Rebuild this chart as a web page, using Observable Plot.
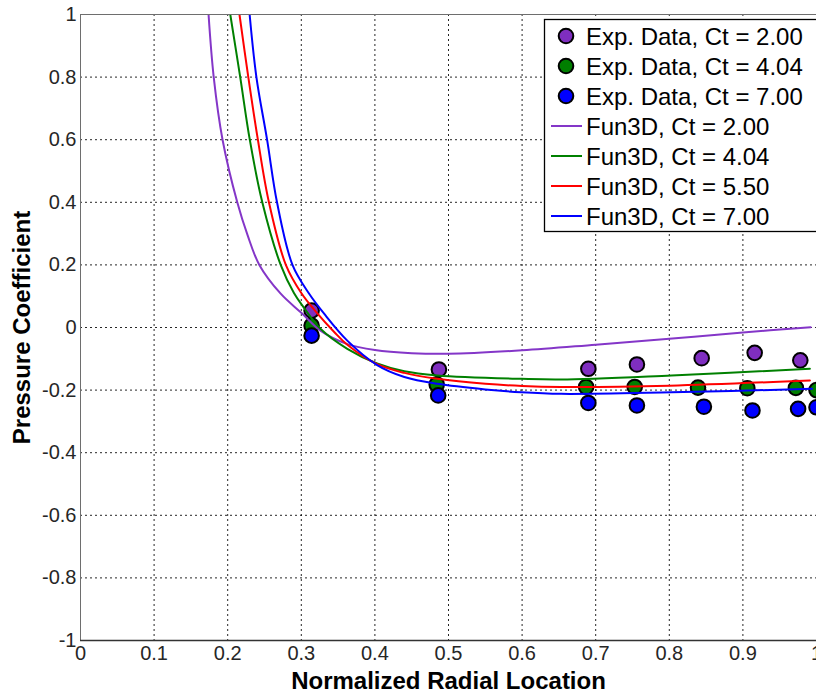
<!DOCTYPE html>
<html>
<head>
<meta charset="utf-8">
<script src="https://cdn.jsdelivr.net/npm/d3@7"></script>
<script src="https://cdn.jsdelivr.net/npm/@observablehq/plot@0.6"></script>
<style>
  html, body { margin: 0; padding: 0; background: #fff; }
  #chart { width: 816px; height: 695px; }
</style>
</head>
<body>
<div id="chart"></div>
<script>
// ---- Data ----
const xTicks = [0, 0.1, 0.2, 0.3, 0.4, 0.5, 0.6, 0.7, 0.8, 0.9, 1];
const yTicks = [-1, -0.8, -0.6, -0.4, -0.2, 0, 0.2, 0.4, 0.6, 0.8, 1];

// Experimental data
const expCt200X = [0.314, 0.487, 0.690, 0.756, 0.844, 0.916, 0.978];
const expCt200Y = [0.054, -0.134, -0.132, -0.118, -0.098, -0.081, -0.105];
const expCt404X = [0.314, 0.484, 0.687, 0.753, 0.839, 0.906, 0.972, 1.0];
const expCt404Y = [0.006, -0.182, -0.190, -0.190, -0.192, -0.194, -0.193, -0.200];
const expCt700X = [0.314, 0.486, 0.690, 0.756, 0.847, 0.913, 0.975, 1.0];
const expCt700Y = [-0.026, -0.217, -0.241, -0.249, -0.253, -0.265, -0.260, -0.255];

// Fun3D curves
const cfdCt200X = [0.174, 0.181, 0.193, 0.213, 0.227, 0.243, 0.272, 0.300, 0.326, 0.3625, 0.400, 0.450, 0.500, 0.600, 0.700, 0.800, 0.900, 0.992];
const cfdCt200Y = [1.0, 0.8, 0.6, 0.4, 0.295, 0.2, 0.108, 0.047, -0.010, -0.053, -0.072, -0.082, -0.084, -0.073, -0.055, -0.036, -0.016, 0.001];
const cfdCt404X = [0.2035, 0.217, 0.230, 0.247, 0.272, 0.290, 0.303, 0.326, 0.3625, 0.403, 0.440, 0.485, 0.599, 0.653, 0.803, 0.991];
const cfdCt404Y = [1.0, 0.8, 0.6, 0.4, 0.2, 0.110, 0.065, -0.004, -0.068, -0.115, -0.140, -0.153, -0.164, -0.166, -0.153, -0.132];
const cfdCt550X = [0.216, 0.228, 0.241, 0.256, 0.279, 0.300, 0.320, 0.345, 0.3625, 0.403, 0.440, 0.485, 0.550, 0.600, 0.653, 0.800, 0.991];
const cfdCt550Y = [1.0, 0.8, 0.6, 0.4, 0.2, 0.110, 0.050, -0.015, -0.055, -0.117, -0.145, -0.164, -0.180, -0.187, -0.190, -0.186, -0.169];
const cfdCt700X = [0.2298, 0.239, 0.2535, 0.267, 0.288, 0.310, 0.331, 0.3625, 0.403, 0.440, 0.485, 0.550, 0.599, 0.653, 0.803, 0.994];
const cfdCt700Y = [1.0, 0.8, 0.6, 0.4, 0.2, 0.110, 0.044, -0.042, -0.120, -0.158, -0.180, -0.198, -0.207, -0.212, -0.207, -0.196];

const expNames = ["Exp. Data, Ct = 2.00", "Exp. Data, Ct = 4.04", "Exp. Data, Ct = 7.00"];
const cfdNames = ["Fun3D, Ct = 2.00", "Fun3D, Ct = 4.04", "Fun3D, Ct = 5.50", "Fun3D, Ct = 7.00"];
const expColors = ["#7F2EC0", "#007F00", "#0000FF"];
const cfdColors = ["#8436C8", "#008000", "#FF0000", "#0000FF"];

// ---- Build tables ----
const zipXY = (xs, ys, name) => xs.map((x, i) => ({x, y: ys[i], name}));
const expSets = [
  zipXY(expCt200X, expCt200Y, expNames[0]),
  zipXY(expCt404X, expCt404Y, expNames[1]),
  zipXY(expCt700X, expCt700Y, expNames[2])
];
const cfdSets = [
  zipXY(cfdCt200X, cfdCt200Y, cfdNames[0]),
  zipXY(cfdCt404X, cfdCt404Y, cfdNames[1]),
  zipXY(cfdCt550X, cfdCt550Y, cfdNames[2]),
  zipXY(cfdCt700X, cfdCt700Y, cfdNames[3])
];

const font = "'Liberation Sans', Arial, Helvetica, sans-serif";

const marks = [
  Plot.gridX(xTicks.filter(d => d > 0 && d < 1), {stroke: "#000", strokeOpacity: 0.85, strokeDasharray: "2,3", strokeWidth: 1}),
  Plot.gridY(yTicks.filter(d => d > -1 && d < 1), {stroke: "#000", strokeOpacity: 0.85, strokeDasharray: "2,3", strokeWidth: 1}),
  ...expSets.map((s, i) => Plot.dot(s, {x: "x", y: "y", r: 7.3, fill: expColors[i], stroke: "#000", strokeWidth: 2})),
  ...cfdSets.map((s, i) => Plot.line(s, {x: "x", y: "y", stroke: cfdColors[i], strokeWidth: 2, curve: "catmull-rom", clip: true})),
  Plot.frame({stroke: "#6e6e6e", strokeWidth: 1}),
  Plot.ruleY([-1], {stroke: "#333", strokeWidth: 1.3}),
  Plot.axisX(xTicks, {tickSize: 0, tickPadding: 5, tickFormat: d => String(d), label: null, fontSize: 20, fill: "#262626"}),
  Plot.axisY(yTicks, {tickSize: 0, tickPadding: 4, tickFormat: d => String(d), label: null, fontSize: 20, fill: "#262626"}),
  Plot.text(["Normalized Radial Location"], {frameAnchor: "bottom", dy: 41, text: d => d, fontSize: 24, fontWeight: "bold", fill: "#000", lineAnchor: "middle", textAnchor: "middle"}),
  Plot.text(["Pressure Coefficient"], {frameAnchor: "left", dx: -58, rotate: -90, text: d => d, fontSize: 24, fontWeight: "bold", fill: "#000", lineAnchor: "middle", textAnchor: "middle"})
];

const chart = Plot.plot({
  width: 816,
  height: 695,
  marginLeft: 80,
  marginRight: 0,
  marginTop: 14,
  marginBottom: 55,
  style: {fontFamily: font, fontSize: "20px", background: "#fff", overflow: "hidden"},
  x: {domain: [0, 1]},
  y: {domain: [-1, 1]},
  marks
});
document.getElementById("chart").appendChild(chart);

// ---- Legend (drawn into the same SVG) ----
const svg = d3.select(chart);
const lg = svg.append("g").attr("font-family", font).attr("text-anchor", "start");
lg.append("rect")
  .attr("x", 544.5).attr("y", 19.5).attr("width", 290).attr("height", 212)
  .attr("fill", "#fff").attr("stroke", "#000").attr("stroke-width", 1.3);
const rowY = i => 36 + i * 30;
expNames.forEach((name, i) => {
  lg.append("circle").attr("cx", 566).attr("cy", rowY(i)).attr("r", 7.3)
    .attr("fill", expColors[i]).attr("stroke", "#000").attr("stroke-width", 2);
  lg.append("text").attr("x", 586).attr("y", rowY(i)).attr("dy", "0.36em")
    .attr("text-anchor", "start").attr("font-size", 24).attr("fill", "#000").text(name);
});
cfdNames.forEach((name, j) => {
  const i = j + 3;
  lg.append("line").attr("x1", 551).attr("x2", 582).attr("y1", rowY(i)).attr("y2", rowY(i))
    .attr("stroke", cfdColors[j]).attr("stroke-width", 2);
  lg.append("text").attr("x", 586).attr("y", rowY(i)).attr("dy", "0.36em")
    .attr("text-anchor", "start").attr("font-size", 24).attr("fill", "#000").text(name);
});
</script>
</body>
</html>
